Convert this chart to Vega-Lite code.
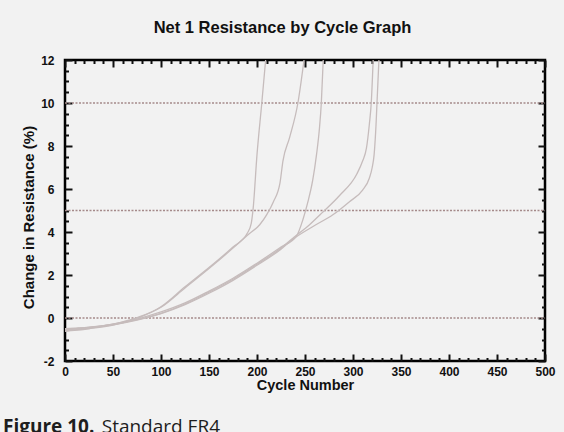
{
  "$schema": "https://vega.github.io/schema/vega-lite/v6.json",
  "width": 480,
  "height": 301,
  "autosize": {"type": "none"},
  "padding": {"left": 65, "top": 60, "right": 19, "bottom": 71},
  "background": "#f2f2f2",
  "title": {
    "text": "Figure 10.",
    "subtitle": "\u200b\u00a0\u00a0\u00a0\u00a0\u00a0\u00a0\u00a0\u00a0\u00a0\u00a0\u00a0\u00a0\u00a0\u00a0\u00a0\u00a0\u00a0\u00a0\u00a0\u00a0Standard FR4",
    "orient": "bottom",
    "anchor": "start",
    "frame": "group",
    "dx": -62,
    "offset": 26,
    "font": "Open Sans",
    "fontSize": 19,
    "fontWeight": "bold",
    "color": "#1e1e1e",
    "subtitleFont": "Open Sans",
    "subtitleFontSize": 19,
    "subtitleFontWeight": "normal",
    "subtitleColor": "#1e1e1e",
    "subtitlePadding": -19
  },
  "config": {
    "view": {"stroke": "#000000", "strokeWidth": 2.5},
    "axis": {
      "domain": false,
      "grid": false,
      "tickColor": "#111111",
      "tickWidth": 2,
      "labelFont": "Liberation Sans",
      "labelFontWeight": "bold",
      "labelFontSize": 12,
      "labelColor": "#111111",
      "labelOverlap": false,
      "labelFlush": false,
      "titleFont": "Liberation Sans",
      "titleFontWeight": "bold",
      "titleColor": "#111111"
    }
  },
  "datasets": {
    "refs": [
      {"level": 10, "from": 0, "to": 500},
      {"level": 5, "from": 0, "to": 500},
      {"level": 0, "from": 0, "to": 500}
    ],
    "curves": [
      {"sample": "A", "cycle": 0, "change": -0.62},
      {"sample": "A", "cycle": 10, "change": -0.58},
      {"sample": "A", "cycle": 25, "change": -0.5},
      {"sample": "A", "cycle": 50, "change": -0.33},
      {"sample": "A", "cycle": 75, "change": -0.02},
      {"sample": "A", "cycle": 100, "change": 0.52},
      {"sample": "A", "cycle": 125, "change": 1.45},
      {"sample": "A", "cycle": 150, "change": 2.35},
      {"sample": "A", "cycle": 175, "change": 3.3},
      {"sample": "A", "cycle": 190, "change": 3.95},
      {"sample": "A", "cycle": 194, "change": 4.4},
      {"sample": "A", "cycle": 196, "change": 5.1},
      {"sample": "A", "cycle": 200, "change": 7.6},
      {"sample": "A", "cycle": 205, "change": 10},
      {"sample": "A", "cycle": 209, "change": 12},
      {"sample": "B", "cycle": 0, "change": -0.55},
      {"sample": "B", "cycle": 10, "change": -0.52},
      {"sample": "B", "cycle": 25, "change": -0.45},
      {"sample": "B", "cycle": 50, "change": -0.28},
      {"sample": "B", "cycle": 75, "change": 0.02},
      {"sample": "B", "cycle": 100, "change": 0.5},
      {"sample": "B", "cycle": 125, "change": 1.4},
      {"sample": "B", "cycle": 150, "change": 2.3},
      {"sample": "B", "cycle": 175, "change": 3.25},
      {"sample": "B", "cycle": 190, "change": 3.85},
      {"sample": "B", "cycle": 203, "change": 4.35},
      {"sample": "B", "cycle": 210, "change": 4.8},
      {"sample": "B", "cycle": 217, "change": 5.4},
      {"sample": "B", "cycle": 224, "change": 6.3},
      {"sample": "B", "cycle": 227, "change": 7.3},
      {"sample": "B", "cycle": 234, "change": 8.4},
      {"sample": "B", "cycle": 242.6, "change": 10},
      {"sample": "B", "cycle": 249, "change": 12},
      {"sample": "C", "cycle": 0, "change": -0.5},
      {"sample": "C", "cycle": 10, "change": -0.47},
      {"sample": "C", "cycle": 25, "change": -0.42},
      {"sample": "C", "cycle": 50, "change": -0.28},
      {"sample": "C", "cycle": 75, "change": -0.05},
      {"sample": "C", "cycle": 100, "change": 0.28},
      {"sample": "C", "cycle": 125, "change": 0.7},
      {"sample": "C", "cycle": 150, "change": 1.25},
      {"sample": "C", "cycle": 175, "change": 1.85},
      {"sample": "C", "cycle": 200, "change": 2.55},
      {"sample": "C", "cycle": 225, "change": 3.3},
      {"sample": "C", "cycle": 241, "change": 3.8},
      {"sample": "C", "cycle": 248, "change": 4.6},
      {"sample": "C", "cycle": 253, "change": 5.4},
      {"sample": "C", "cycle": 258, "change": 6.4},
      {"sample": "C", "cycle": 262, "change": 7.6},
      {"sample": "C", "cycle": 265, "change": 8.8},
      {"sample": "C", "cycle": 267, "change": 10},
      {"sample": "C", "cycle": 269, "change": 12},
      {"sample": "D", "cycle": 0, "change": -0.55},
      {"sample": "D", "cycle": 10, "change": -0.5},
      {"sample": "D", "cycle": 25, "change": -0.44},
      {"sample": "D", "cycle": 50, "change": -0.3},
      {"sample": "D", "cycle": 75, "change": -0.08},
      {"sample": "D", "cycle": 100, "change": 0.22},
      {"sample": "D", "cycle": 125, "change": 0.65},
      {"sample": "D", "cycle": 150, "change": 1.2},
      {"sample": "D", "cycle": 175, "change": 1.8},
      {"sample": "D", "cycle": 200, "change": 2.5},
      {"sample": "D", "cycle": 225, "change": 3.25},
      {"sample": "D", "cycle": 237, "change": 3.7},
      {"sample": "D", "cycle": 255, "change": 4.35},
      {"sample": "D", "cycle": 268, "change": 4.9},
      {"sample": "D", "cycle": 286, "change": 5.7},
      {"sample": "D", "cycle": 304, "change": 6.7},
      {"sample": "D", "cycle": 310, "change": 7.3},
      {"sample": "D", "cycle": 314, "change": 7.9},
      {"sample": "D", "cycle": 317, "change": 9},
      {"sample": "D", "cycle": 319, "change": 10},
      {"sample": "D", "cycle": 321, "change": 12},
      {"sample": "E", "cycle": 0, "change": -0.6},
      {"sample": "E", "cycle": 10, "change": -0.55},
      {"sample": "E", "cycle": 25, "change": -0.47},
      {"sample": "E", "cycle": 50, "change": -0.32},
      {"sample": "E", "cycle": 75, "change": -0.1},
      {"sample": "E", "cycle": 100, "change": 0.2},
      {"sample": "E", "cycle": 125, "change": 0.62},
      {"sample": "E", "cycle": 150, "change": 1.15},
      {"sample": "E", "cycle": 175, "change": 1.75},
      {"sample": "E", "cycle": 200, "change": 2.45},
      {"sample": "E", "cycle": 225, "change": 3.2},
      {"sample": "E", "cycle": 237, "change": 3.65},
      {"sample": "E", "cycle": 260, "change": 4.3},
      {"sample": "E", "cycle": 279, "change": 4.8},
      {"sample": "E", "cycle": 296, "change": 5.4},
      {"sample": "E", "cycle": 310, "change": 5.95},
      {"sample": "E", "cycle": 317, "change": 6.5},
      {"sample": "E", "cycle": 320, "change": 7.0},
      {"sample": "E", "cycle": 322, "change": 7.6},
      {"sample": "E", "cycle": 324, "change": 9},
      {"sample": "E", "cycle": 325, "change": 10},
      {"sample": "E", "cycle": 327, "change": 12}
    ]
  },
  "layer": [
    {
      "data": {"name": "refs"},
      "mark": {"type": "rule", "color": "#a58a8a", "strokeWidth": 1.5, "strokeDash": [2, 1.5]},
      "encoding": {
        "x": {
          "field": "from",
          "type": "quantitative",
          "scale": {"domain": [0, 500], "nice": false, "zero": false},
          "axis": {
            "orient": "top",
            "values": [0,10,20,30,40,50,60,70,80,90,100,110,120,130,140,150,160,170,180,190,200,210,220,230,240,250,260,270,280,290,300,310,320,330,340,350,360,370,380,390,400,410,420,430,440,450,460,470,480,490,500],
            "labels": false,
            "tickSize": {"condition": {"test": "datum.value % 50 === 0", "value": -7}, "value": -3.5},
            "title": "Net 1 Resistance by Cycle Graph",
            "titleFontSize": 16.5,
            "titleX": 217,
            "titleY": -28,
            "titleAlign": "center",
            "titleBaseline": "alphabetic",
            "titleAnchor": null
          }
        },
        "x2": {"field": "to"},
        "y": {
          "field": "level",
          "type": "quantitative",
          "scale": {"domain": [-2, 12], "nice": false, "zero": false},
          "axis": {
            "orient": "right",
            "values": [-2,-1.5,-1,-0.5,0,0.5,1,1.5,2,2.5,3,3.5,4,4.5,5,5.5,6,6.5,7,7.5,8,8.5,9,9.5,10,10.5,11,11.5,12],
            "labels": false,
            "tickSize": {"condition": {"test": "datum.value % 2 === 0", "value": -7}, "value": -3.5},
            "title": null
          }
        }
      }
    },
    {
      "data": {"name": "curves"},
      "mark": {"type": "line", "color": "#c6bcbc", "strokeWidth": 1.3, "interpolate": "monotone", "clip": true},
      "encoding": {
        "detail": {"field": "sample"},
        "x": {
          "field": "cycle",
          "type": "quantitative",
          "scale": {"domain": [0, 500], "nice": false, "zero": false},
          "axis": {
            "orient": "bottom",
            "values": [0,10,20,30,40,50,60,70,80,90,100,110,120,130,140,150,160,170,180,190,200,210,220,230,240,250,260,270,280,290,300,310,320,330,340,350,360,370,380,390,400,410,420,430,440,450,460,470,480,490,500],
            "labelExpr": "datum.value % 50 === 0 ? '' + datum.value : ''",
            "labelPadding": 12,
            "tickSize": {"condition": {"test": "datum.value % 50 === 0", "value": -7}, "value": -3.5},
            "title": "Cycle Number",
            "titleFontSize": 14.5,
            "titleX": 240,
            "titleY": 28.5,
            "titleAlign": "center",
            "titleBaseline": "alphabetic",
            "titleAnchor": null
          }
        },
        "y": {
          "field": "change",
          "type": "quantitative",
          "scale": {"domain": [-2, 12], "nice": false, "zero": false},
          "axis": {
            "orient": "left",
            "values": [-2,-1.5,-1,-0.5,0,0.5,1,1.5,2,2.5,3,3.5,4,4.5,5,5.5,6,6.5,7,7.5,8,8.5,9,9.5,10,10.5,11,11.5,12],
            "labelExpr": "datum.value % 2 === 0 ? '' + datum.value : ''",
            "labelPadding": 18,
            "tickSize": {"condition": {"test": "datum.value % 2 === 0", "value": -7}, "value": -3.5},
            "title": "Change in Resistance (%)",
            "titleFontSize": 15,
            "titleX": -37,
            "titleY": 157,
            "titleAngle": 270,
            "titleAlign": "center",
            "titleBaseline": "middle",
            "titleAnchor": null
          }
        }
      }
    }
  ],
  "resolve": {"axis": {"x": "independent", "y": "independent"}}
}
